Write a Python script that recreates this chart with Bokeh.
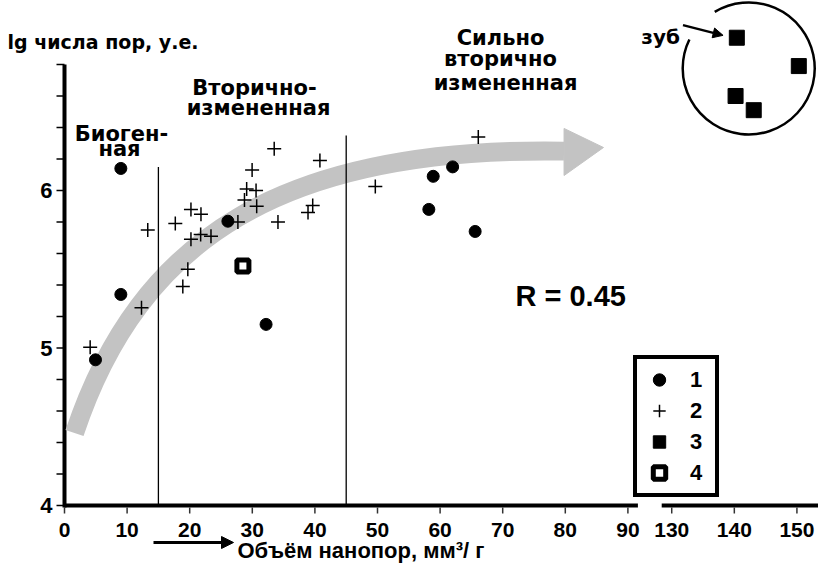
from bokeh.plotting import figure
from bokeh.models import Range1d, Label, Arrow, NormalHead, Legend, LegendItem
from bokeh.core.properties import value
from bokeh.embed import file_html
from bokeh.resources import INLINE
import math

# ---------------- data ----------------
# 1 - circles
type1_x = [9.0, 9.0, 4.95, 26.1, 32.2, 58.9, 62.0, 58.2, 65.6]
type1_y = [6.14, 5.34, 4.925, 5.805, 5.15, 6.09, 6.15, 5.88, 5.74]
# 2 - crosses
type2_x = [4.1, 12.3, 13.3, 17.7, 20.2, 21.8, 20.2, 21.75, 23.4, 19.7, 18.9, 27.7,
           28.75, 29.1, 30.6, 30.7, 29.97, 33.5, 40.8, 34.1, 38.9, 39.65, 49.65, 66.1]
type2_y = [5.005, 5.255, 5.75, 5.79, 5.88, 5.85, 5.69, 5.72, 5.71, 5.50, 5.39, 5.80,
           5.94, 6.01, 6.00, 5.90, 6.13, 6.265, 6.19, 5.80, 5.86, 5.905, 6.025, 6.34]
# 3 - filled squares ("зуб")
type3_x = [140.4, 150.3, 140.2, 143.1]
type3_y = [6.97, 6.79, 6.60, 6.51]
# 4 - open square
type4_x = [28.5]
type4_y = [5.52]

zone_bounds = [15, 45]
zone_tops = [6.15, 6.35]

x_tick_values = [0, 10, 20, 30, 40, 50, 60, 70, 80, 90, 130, 140, 150]
y_tick_values = [4, 5, 6]
y_minor_values = [4.2, 4.4, 4.6, 4.8, 5.2, 5.4, 5.6, 5.8, 6.2, 6.4, 6.6, 6.8]
y_axis_top = 6.8
legend_labels = ["1", "2", "3", "4"]
r_text = "R = 0.45"
x_title = "Объём нанопор, мм³/ г"
y_title = "lg числа пор, у.е."

# ---------------- axis break ----------------
BREAK_SHIFT = 33          # 130 is drawn right after 90 + a gap
BREAK_FROM, BREAK_TO = 91.6, 95.4


def xt(v):
    return v if v <= 92 else v - BREAK_SHIFT


# ---------------- layout ----------------
W, H = 818, 566
OX, SX = 64.0, 6.26           # canvas px of x = 0, px per x unit
Y4, SY = 505.0, 157.5         # canvas px of y = 4, px per y unit


def dx(px):
    return (px - OX) / SX


def dy(py):
    return 4 + (Y4 - py) / SY


p = figure(width=W, height=H, output_backend="svg", toolbar_location=None,
           x_range=Range1d(dx(0), dx(W)), y_range=Range1d(dy(H), dy(0)),
           min_border=0, outline_line_color=None)
p.grid.visible = False
p.xaxis.visible = False
p.yaxis.visible = False

BOLD = dict(text_font_style="bold", text_color="black")

# ---- x axis: broken line, ticks, labels (on the plot's x scale) ----
xr_end = dx(W)
p.segment(x0=[0, BREAK_TO], y0=[4, 4], x1=[BREAK_FROM, xr_end], y1=[4, 4],
          line_color="black", line_width=4)
xt_ticks = [xt(v) for v in x_tick_values]
p.segment(x0=xt_ticks, y0=[4 - 2 / SY] * len(xt_ticks), x1=xt_ticks,
          y1=[4 - 8 / SY] * len(xt_ticks), line_color="#333333", line_width=1.5)
p.text(x=xt_ticks, y=[dy(529)] * len(xt_ticks), text=[str(v) for v in x_tick_values],
       text_align="center", text_baseline="alphabetic",
       text_font=value("Liberation Sans"), text_font_size="21px", **BOLD)

# ---- y axis: line, ticks, labels (on the plot's y scale) ----
all_y_ticks = y_tick_values + y_minor_values
p.segment(x0=[0], y0=[4 - 2 / SY], x1=[0], y1=[y_axis_top], line_color="black",
          line_width=4)
p.segment(x0=[-8 / SX] * len(all_y_ticks), y0=all_y_ticks, x1=[0] * len(all_y_ticks),
          y1=all_y_ticks, line_color="black", line_width=1.5)
p.text(x=[-12 / SX] * len(y_tick_values), y=y_tick_values,
       text=[str(v) for v in y_tick_values], text_align="right",
       text_baseline="middle", text_font=value("Liberation Sans"),
       text_font_size="22px", **BOLD)

# gray trend arrow
p.bezier(x0=[1.6], y0=[4.46], x1=[79.8], y1=[6.25], cx0=[12], cy0=[5.7],
         cx1=[35], cy1=[6.28], line_color="#c3c3c3", line_width=19)
p.patch(x=[79.8, 86.1, 79.8], y=[6.394, 6.273, 6.095], fill_color="#c3c3c3",
        line_color="#c3c3c3")

# zone boundaries
p.segment(x0=zone_bounds, y0=[4, 4], x1=zone_bounds, y1=zone_tops,
          line_color="black", line_width=1.3)

# data
r1 = p.scatter(type1_x, type1_y, marker="circle", size=12, color="black")
r2 = p.scatter(type2_x, type2_y, marker="cross", size=14, line_color="black",
               line_width=1.5)
r3 = p.scatter([xt(v) for v in type3_x], type3_y, marker="square", size=15,
               color="black")
r4 = p.scatter(type4_x, type4_y, marker="square", size=12, fill_color="white",
               line_color="black", line_width=5)

# inset circle around teeth samples + pointer
p.arc(x=[xt(142.3)], y=[6.775], radius=66, radius_units="screen",
      start_angle=math.radians(154), end_angle=math.radians(121),
      direction="anticlock", line_color="black", line_width=2.5)
ptr_x0, ptr_y0, ptr_x1, ptr_y1 = xt(131.8), 7.05, xt(138.2), 6.985
p.add_layout(Arrow(end=NormalHead(size=10, fill_color="black", line_color="black"),
                   x_start=ptr_x0, y_start=ptr_y0, x_end=ptr_x1, y_end=ptr_y1,
                   line_width=2.5, line_color="black"))
p.add_layout(Label(x=ptr_x0, y=ptr_y0, x_offset=-3, y_offset=-12, text="зуб",
                   text_font="DejaVu Sans", text_font_size="20px",
                   text_align="right", text_baseline="alphabetic", **BOLD))


def add_text(txt, px, py, size, font="DejaVu Sans", align="left"):
    p.add_layout(Label(x=dx(px), y=dy(py), text=txt, text_font=font,
                       text_font_size=f"{size}px", text_align=align,
                       text_baseline="alphabetic", **BOLD))


add_text(y_title, 7, 41, 19)
add_text("Биоген-", 121, 133, 21, align="center")
add_text("ная", 119, 148, 21, align="center")
add_text("Вторично-", 254, 87, 21, align="center")
add_text("измененная", 258, 107, 21, align="center")
add_text("Сильно", 500, 37, 21, align="center")
add_text("вторично", 500, 58, 21, align="center")
add_text("измененная", 505, 82, 21, align="center")
add_text(r_text, 515, 295, 29, font="Liberation Sans")
add_text(x_title, 237, 550, 22, font="Liberation Sans")
p.add_layout(Arrow(end=NormalHead(size=12, fill_color="black", line_color="black"),
                   x_start=dx(153), y_start=dy(542), x_end=dx(233), y_end=dy(542),
                   line_width=3, line_color="black"))

legend = Legend(items=[LegendItem(label=legend_labels[0], renderers=[r1]),
                       LegendItem(label=legend_labels[1], renderers=[r2]),
                       LegendItem(label=legend_labels[2], renderers=[r3]),
                       LegendItem(label=legend_labels[3], renderers=[r4])],
                location=(633, H - 497))
legend.border_line_width = 4
legend.border_line_color = "black"
legend.border_line_alpha = 1
legend.background_fill_alpha = 1
legend.label_text_font = "Liberation Sans"
legend.label_text_font_style = "bold"
legend.label_text_font_size = "22px"
legend.label_text_color = "black"
legend.glyph_height = 31
legend.glyph_width = 34
legend.label_height = 31
legend.label_width = 20
legend.spacing = 0
legend.padding = 5
legend.margin = 0
legend.label_standoff = 14
p.add_layout(legend)

open("out.html", "w").write(file_html(p, INLINE))
